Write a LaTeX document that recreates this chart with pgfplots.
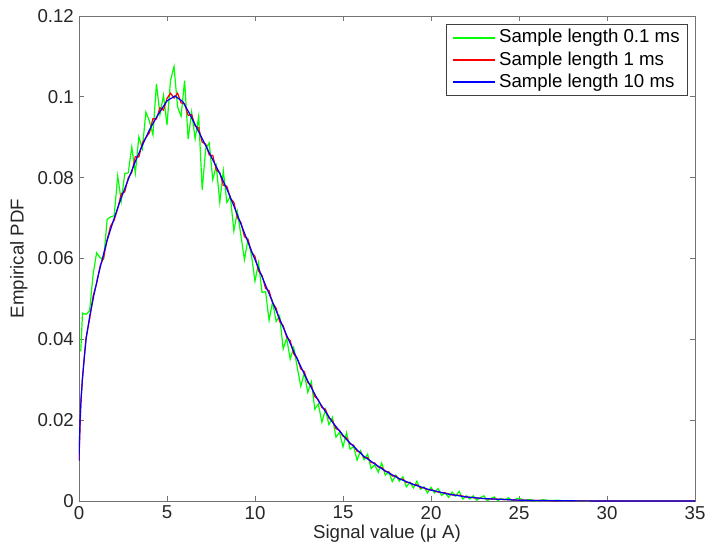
\documentclass[border=0pt]{standalone}
\usepackage{pgfplots}
\pgfplotsset{compat=1.18}
\usepackage{fontspec}
\setmainfont{Liberation Sans}
\definecolor{mgreen}{rgb}{0,1,0}
\definecolor{mred}{rgb}{1,0,0}
\definecolor{mblue}{rgb}{0,0,1}
\definecolor{axgray}{rgb}{0.45,0.45,0.45}
\newcommand{\reffont}{\fontsize{14}{16.8}\selectfont}
\begin{document}
\reffont
\begin{tikzpicture}
\useasboundingbox (-59.25pt,-38.25pt) rectangle (469.5pt,375.75pt);
\begin{axis}[
  scale only axis, width=462pt, height=363.75pt,
  xmin=0, xmax=35, ymin=0, ymax=0.12,
  xtick={0,5,10,15,20,25,30,35},
  xticklabels={0,5,10,15,20,25,30,35},
  ytick={0,0.02,0.04,0.06,0.08,0.1,0.12},
  yticklabels={0,0.02,0.04,0.06,0.08,0.1,0.12},
  tick align=inside, xtick pos=both, ytick pos=both,
  major tick length=4pt,
  axis line style={axgray}, tick style={axgray, line width=0.5pt},
  ticklabel style={font=\reffont, text=black!85},
  xticklabel style={yshift=1pt},
  yticklabel style={xshift=1pt},
  label style={font=\reffont, text=black!85},
  xlabel={Signal value (μ A)}, ylabel={Empirical PDF},
  xlabel style={yshift=5pt},
  ylabel style={yshift=-2pt},
  legend style={at={(0.9885,0.984)}, anchor=north east, draw=black!75,
    font=\reffont, inner xsep=4pt, inner ysep=2pt, row sep=0.5pt,
    legend cell align=left},
  legend image code/.code={\draw[#1, line width=1.5pt] (0pt,0pt) -- (32pt,0pt);},
]
\addplot[color=mgreen, line width=0.9pt] coordinates {
(0.1,0.0370) (0.2,0.0465) (0.4,0.0462) (0.6,0.0470) (0.8,0.0560) (1.0,0.0614)
(1.2,0.0602) (1.4,0.0598) (1.6,0.0697) (1.8,0.0703) (2.0,0.0706) (2.2,0.0804)
(2.4,0.0742) (2.6,0.0810) (2.8,0.0812) (3.0,0.0876) (3.2,0.0811) (3.4,0.0901)
(3.6,0.0872) (3.8,0.0962) (4.0,0.0940) (4.2,0.0906) (4.4,0.1032) (4.6,0.0956)
(4.8,0.1004) (5.0,0.0930) (5.2,0.1041) (5.4,0.1075) (5.6,0.0975) (5.8,0.0952)
(6.0,0.1040) (6.2,0.0896) (6.4,0.0962) (6.6,0.0896) (6.8,0.0951) (7.0,0.0770)
(7.2,0.0872) (7.4,0.0886) (7.6,0.0795) (7.8,0.0829) (8.0,0.0739) (8.2,0.0817)
(8.4,0.0739) (8.6,0.0753) (8.8,0.0668) (9.0,0.0716) (9.2,0.0657) (9.4,0.0597)
(9.6,0.0647) (9.8,0.0608) (10.0,0.0544) (10.2,0.0589) (10.4,0.0516) (10.6,0.0518)
(10.8,0.0447) (11.0,0.0493) (11.2,0.0444) (11.4,0.0458) (11.6,0.0376) (11.8,0.0403)
(12.0,0.0351) (12.2,0.0380) (12.4,0.0331) (12.6,0.0284) (12.8,0.0316) (13.0,0.0269)
(13.2,0.0295) (13.4,0.0227) (13.6,0.0240) (13.8,0.0195) (14.0,0.0226) (14.2,0.0189)
(14.4,0.0207) (14.6,0.0158) (14.8,0.0170) (15.0,0.0134) (15.2,0.0169) (15.4,0.0128)
(15.6,0.0135) (15.8,0.0101) (16.0,0.0124) (16.2,0.0102) (16.4,0.0116) (16.6,0.0080)
(16.8,0.0090) (17.0,0.0071) (17.2,0.0094) (17.4,0.0064) (17.6,0.0072) (17.8,0.0048)
(18.0,0.0064) (18.2,0.0049) (18.4,0.0060) (18.6,0.0035) (18.8,0.0046) (19.0,0.0032)
(19.2,0.0049) (19.4,0.0029) (19.6,0.0035) (19.8,0.0020) (20.0,0.0034) (20.2,0.0020)
(20.4,0.0031) (20.6,0.0014) (20.8,0.0020) (21.0,0.0009) (21.2,0.0022) (21.4,0.0012)
(21.6,0.0024) (21.8,0.0005) (22.0,0.0013) (22.2,0.0005) (22.4,0.0013) (22.6,0.0002)
(22.8,0.0008) (23.0,0.0013) (23.2,0.0001) (23.4,0.0006) (23.6,0.0010) (23.8,0.0001)
(24.0,0.0006) (24.2,0.0003) (24.4,0.0008) (24.6,0.0001) (24.8,0.0004) (25.0,0.0007)
(25.3,0.0001) (25.6,0.0004) (26.0,0.0000) (26.4,0.0003) (26.8,0.0001) (27.2,0.0002)
(27.6,0.0000) (28.0,0.0001) (29.0,0.0000) (30.0,0.0001) (31.0,0.0000) (32.0,0.0000)
(35.0,0.0000)
};
\addlegendentry{Sample length 0.1 ms}
\addplot[color=mred, line width=0.9pt] coordinates {
(0.0,0.0100) (0.1,0.0238) (0.2,0.0305) (0.4,0.0404) (0.6,0.0449) (0.8,0.0507)
(1.0,0.0538) (1.2,0.0582) (1.4,0.0602) (1.6,0.0647) (1.8,0.0681) (2.0,0.0695)
(2.2,0.0724) (2.4,0.0760) (2.6,0.0765) (2.8,0.0800) (3.0,0.0813) (3.2,0.0852)
(3.4,0.0851) (3.6,0.0886) (3.8,0.0899) (4.0,0.0911) (4.2,0.0946) (4.4,0.0945)
(4.6,0.0973) (4.8,0.0967) (5.0,0.0996) (5.2,0.1009) (5.4,0.0997) (5.6,0.1009)
(5.8,0.0985) (6.0,0.0983) (6.2,0.0954) (6.4,0.0956) (6.6,0.0928) (6.8,0.0923)
(7.0,0.0888) (7.2,0.0883) (7.4,0.0856) (7.6,0.0855) (7.8,0.0819) (8.0,0.0812)
(8.2,0.0781) (8.4,0.0779) (8.6,0.0749) (8.8,0.0739) (9.0,0.0701) (9.2,0.0689)
(9.4,0.0654) (9.6,0.0647) (9.8,0.0616) (10.0,0.0605) (10.2,0.0569) (10.4,0.0558)
(10.6,0.0526) (10.8,0.0520) (11.0,0.0490) (11.2,0.0477) (11.4,0.0444) (11.6,0.0434)
(11.8,0.0405) (12.0,0.0397) (12.2,0.0364) (12.4,0.0353) (12.6,0.0327) (12.8,0.0320)
(13.0,0.0293) (13.2,0.0285) (13.4,0.0258) (13.6,0.0251) (13.8,0.0231) (14.0,0.0227)
(14.2,0.0205) (14.4,0.0199) (14.6,0.0179) (14.8,0.0175) (15.0,0.0160) (15.2,0.0156)
(15.4,0.0141) (15.6,0.0138) (15.8,0.0123) (16.0,0.0120) (16.2,0.0108) (16.4,0.0107)
(16.6,0.0095) (16.8,0.0094) (17.0,0.0084) (17.2,0.0083) (17.4,0.0073) (17.6,0.0072)
(17.8,0.0062) (18.0,0.0062) (18.2,0.0054) (18.4,0.0054) (18.6,0.0046) (18.8,0.0046)
(19.0,0.0040) (19.2,0.0040) (19.4,0.0033) (19.6,0.0033) (19.8,0.0028) (20.0,0.0028)
(20.4,0.0022) (20.8,0.0020) (21.2,0.0015) (21.6,0.0014) (22.0,0.0010) (22.5,0.0008)
(23.0,0.0006) (23.5,0.0005) (24.0,0.0004) (25.0,0.0002) (26.0,0.00012) (27.0,0.00007)
(28.0,0.00004) (30.0,0.00001) (35.0,0.0)
};
\addlegendentry{Sample length 1 ms}
\addplot[color=mblue, line width=0.9pt] coordinates {
(0,0.0100) (0.03,0.0155) (0.06,0.0200) (0.12,0.0255) (0.19,0.0300) (0.3,0.0355)
(0.4,0.0400) (0.6,0.0455) (0.85,0.0510) (1.05,0.0550) (1.3,0.0595) (1.6,0.0645)
(2.0,0.0700) (2.4,0.0750) (2.75,0.0790) (3.2,0.0840) (3.6,0.0880) (4.0,0.0918)
(4.45,0.0953) (5.0,0.0990) (5.45,0.1002) (5.9,0.0988) (6.3,0.0957) (6.7,0.0922)
(7.1,0.0888) (7.5,0.0853) (8.0,0.0810) (8.4,0.0772) (8.8,0.0730) (9.15,0.0691)
(9.5,0.0652) (9.85,0.0613) (10.4,0.0555) (10.95,0.0497) (11.6,0.0430) (12.2,0.0370)
(12.9,0.0305) (13.6,0.0248) (14.4,0.0195) (15.2,0.0152) (16.2,0.0110) (17.3,0.0077)
(18.2,0.0055) (19.0,0.0041) (19.9,0.0028) (21.0,0.0017) (22.0,0.0010) (23.0,0.0006)
(24.0,0.0004) (25.0,0.0002) (26.0,0.00012) (28.0,0.00004) (30.0,0.00001) (32.0,0.000003)
(35.0,0.0)
};
\addlegendentry{Sample length 10 ms}
\end{axis}
\end{tikzpicture}
\end{document}
